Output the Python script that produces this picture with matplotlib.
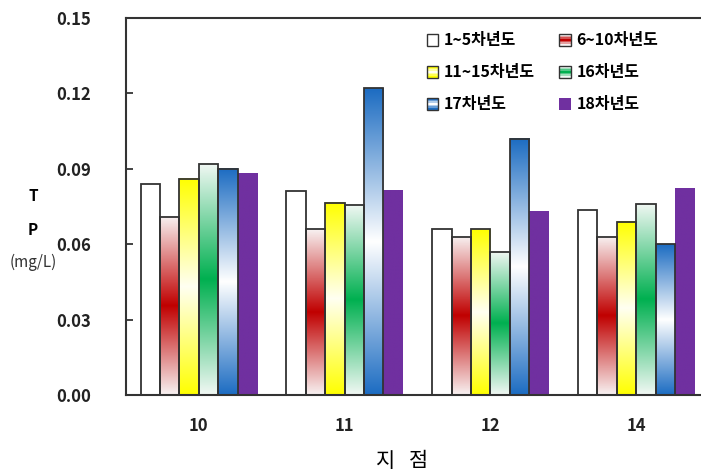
import numpy as np
import matplotlib
matplotlib.use("Agg")
import matplotlib.pyplot as plt
from matplotlib.legend_handler import HandlerBase
from matplotlib.patches import Rectangle

plt.rcParams['font.family'] = ['Noto Sans CJK KR', 'DejaVu Sans']

# ---- data -------------------------------------------------------------
sites = ['10', '11', '12', '14']
series_names = ['1~5차년도', '6~10차년도', '11~15차년도', '16차년도', '17차년도', '18차년도']
tp_1_5 = [0.084, 0.081, 0.066, 0.0735]
tp_6_10 = [0.071, 0.066, 0.063, 0.063]
tp_11_15 = [0.086, 0.0765, 0.066, 0.069]
tp_16 = [0.092, 0.0757, 0.057, 0.076]
tp_17 = [0.090, 0.122, 0.102, 0.060]
tp_18 = [0.088, 0.0815, 0.073, 0.082]
y_ticks = [0.00, 0.03, 0.06, 0.09, 0.12, 0.15]

series_values = [tp_1_5, tp_6_10, tp_11_15, tp_16, tp_17, tp_18]

# fill style per series: (end colour, centre colour) of a vertical gradient
WHITE = (1.0, 1.0, 1.0)
def hx(c):
    c = c.lstrip('#')
    return tuple(int(c[i:i + 2], 16) / 255 for i in (0, 2, 4))

fills = [
    (WHITE, WHITE),
    (hx('#F8F2F2'), hx('#C00000')),
    (hx('#FFFF00'), hx('#FFFFF2')),
    (hx('#F2F8F4'), hx('#00B050')),
    (hx('#1C6CC2'), hx('#FFFFFF')),
    (hx('#7030A0'), hx('#7030A0')),
]
edges = ['#333333'] * 5 + ['none']


def gradient(end, mid, n=256):
    t = np.linspace(0, 1, n)
    s = 1 - np.abs(2 * t - 1)
    end = np.array(end)
    mid = np.array(mid)
    col = end[None, :] * (1 - s[:, None]) + mid[None, :] * s[:, None]
    return col[:, None, :]


class GradientHandler(HandlerBase):
    def __init__(self, end, mid, edge):
        super().__init__()
        self.end, self.mid, self.edge = end, mid, edge

    def create_artists(self, legend, orig_handle, xdescent, ydescent,
                       width, height, fontsize, trans):
        size = min(width, height)
        x0 = -xdescent + (width - size) / 2
        y0 = -ydescent + (height - size) / 2
        arts = []
        n = 7
        g = gradient(self.end, self.mid, n)[:, 0, :]
        for k in range(n):
            r = Rectangle((x0, y0 + size * (n - 1 - k) / n), size, size / n,
                          facecolor=g[k], edgecolor='none', transform=trans)
            arts.append(r)
        arts.append(Rectangle((x0, y0), size, size, facecolor='none',
                              edgecolor=self.edge if self.edge != 'none' else 'none',
                              lw=1.0, transform=trans))
        return arts


# ---- figure -------------------------------------------------------------
W, H = 701, 475
fig = plt.figure(figsize=(W / 100, H / 100), dpi=100)
ax = fig.add_axes([126 / W, (H - 395) / H, (709 - 126) / W, (395 - 18) / H])

x = np.arange(len(sites))
nser = len(series_values)
bw = 0.8 / nser
handles = []
for i, (vals, (end, mid), ec) in enumerate(zip(series_values, fills, edges)):
    pos = x + (i - (nser - 1) / 2) * bw
    bars = ax.bar(pos, vals, width=bw, facecolor='none', edgecolor=ec,
                  linewidth=1.3, zorder=3)
    img = gradient(end, mid)
    for p in bars:
        ax.imshow(img, extent=(p.get_x(), p.get_x() + p.get_width(), 0, p.get_height()),
                  aspect='auto', interpolation='bilinear', zorder=2)
    handles.append(bars)

ax.set_aspect('auto')
ax.set_xlim(-0.5, len(sites) - 0.5)
ax.set_ylim(0, 0.15)
ax.set_yticks(y_ticks)
ax.set_yticklabels([f'{v:.2f}' for v in y_ticks], fontsize=12, fontweight='bold')
ax.set_xticks(x)
ax.set_xticklabels(sites, fontsize=12, fontweight='bold')
ax.tick_params(axis='y', direction='in', length=5, width=1.2, pad=25, colors='#222222')
ax.tick_params(axis='x', length=0, pad=16, colors='#222222')
for s in ['left', 'top', 'bottom']:
    ax.spines[s].set_linewidth(1.5)
    ax.spines[s].set_color('#333333')
ax.spines['right'].set_visible(False)

# axis titles
fig.text(33 / W, 1 - 196 / H, 'T', ha='center', va='center', fontsize=11, fontweight='bold')
fig.text(33 / W, 1 - 230 / H, 'P', ha='center', va='center', fontsize=11, fontweight='bold')
fig.text(33 / W, 1 - 262 / H, '(mg/L)', ha='center', va='center', fontsize=11, color='#333333')
fig.text(402 / W, 1 - 461 / H, '지   점', ha='center', va='center', fontsize=15)

# legend laid out row by row in two columns
order = [0, 2, 4, 1, 3, 5]
hmap = {h: GradientHandler(end, mid, ec) for h, (end, mid), ec in zip(handles, fills, edges)}
leg = ax.legend([handles[k] for k in order], [series_names[k] for k in order],
                handler_map=hmap, ncol=2, frameon=False,
                loc='upper left', bbox_to_anchor=(420 / W, 1 - 26 / H),
                bbox_transform=fig.transFigure,
                prop={'weight': 'bold', 'size': 11.5},
                handlelength=0.75, handleheight=0.75, handletextpad=0.35,
                columnspacing=1.5, labelspacing=1.0, borderaxespad=0)

fig.savefig('out.png', dpi=100)
